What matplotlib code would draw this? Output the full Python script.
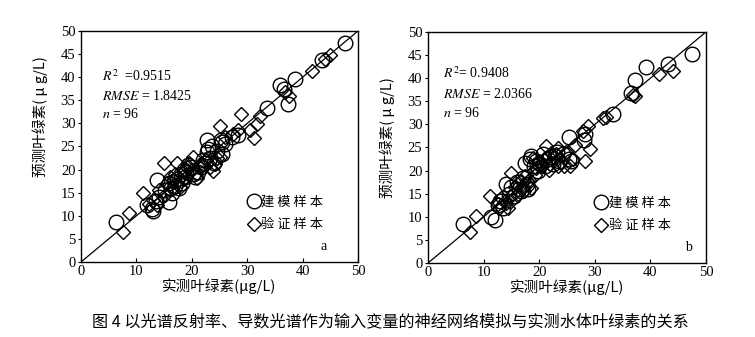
import matplotlib
matplotlib.use('Agg')
import matplotlib.pyplot as plt
import numpy as np

plt.rcParams['font.family'] = ['Liberation Serif', 'DejaVu Serif']
plt.rcParams['mathtext.fontset'] = 'stix'
CJK = ['Noto Sans CJK SC', 'DejaVu Sans']

# ---- panel a: reflectance input ----
a_cal_x = [6.4, 11.9, 12.8, 13.0, 13.5, 14.0, 13.7, 15.8, 15.2, 15.8,
           16.2, 16.5, 16.8, 17.0, 17.3, 17.6, 18.0, 18.2, 18.5, 18.8,
           19.0, 19.3, 19.8, 20.2, 20.6, 21.2, 21.6, 22.0, 22.4, 22.7,
           22.7, 23.0, 23.3, 23.6, 24.0, 24.6, 25.2, 25.4, 25.4, 26.0,
           27.2, 28.4, 33.6, 36.0, 36.6, 37.3, 38.7, 43.5, 47.7]
a_cal_y = [8.7, 12.3, 11.5, 11.0, 13.2, 14.0, 17.7, 13.0, 15.5, 17.0,
           16.0, 15.0, 17.5, 16.5, 18.0, 16.0, 19.0, 17.2, 20.0, 18.5,
           19.5, 21.0, 20.5, 19.0, 18.5, 19.5, 20.5, 22.0, 21.5, 23.8,
           26.3, 24.5, 22.5, 25.0, 21.5, 24.0, 26.5, 26.0, 23.4, 25.5,
           27.0, 27.4, 33.4, 38.2, 37.5, 34.1, 39.7, 43.8, 47.3]
a_val_x = [7.5, 8.7, 11.1, 12.3, 13.0, 14.0, 14.9, 15.5, 16.0, 16.5,
           17.3, 17.0, 18.0, 18.7, 19.1, 20.3, 20.8, 21.5, 22.0, 23.3,
           24.2, 25.1, 25.1, 26.0, 27.5, 28.4, 28.9, 30.5, 31.3, 31.7,
           32.3, 36.9, 37.5, 41.7, 44.1, 45.0,
           18.5, 19.5, 21.0, 22.5, 23.8, 16.8, 15.2, 20.0, 24.5, 13.8, 17.8]
a_val_y = [6.4, 10.5, 14.9, 12.5, 13.5, 15.5, 21.4, 17.0, 18.5, 16.0,
           21.5, 19.0, 17.5, 20.0, 20.6, 22.7, 19.0, 20.5, 21.0, 20.6,
           21.3, 22.7, 29.4, 27.0, 27.8, 28.5, 32.0, 28.5, 26.8, 29.9,
           31.7, 36.8, 35.9, 41.3, 44.0, 44.7,
           18.0, 21.5, 18.2, 22.0, 19.8, 17.8, 14.5, 20.0, 22.5, 12.3, 16.2]

# ---- panel b: derivative spectrum input ----
b_cal_x = [6.3, 11.4, 12.0, 12.5, 13.0, 13.5, 14.1, 14.5, 15.0, 15.5,
           16.0, 16.3, 16.7, 17.0, 17.4, 17.8, 18.0, 18.3, 18.6, 19.0,
           19.4, 19.8, 20.2, 20.6, 21.0, 21.5, 22.0, 22.4, 22.8, 23.2,
           23.6, 24.2, 25.3, 25.3, 25.8, 28.1, 28.3, 33.2, 36.6, 37.2,
           39.2, 43.2, 47.5]
b_cal_y = [8.5, 9.9, 9.2, 12.5, 13.5, 12.0, 17.0, 15.0, 16.5, 14.5,
           17.5, 16.0, 15.5, 18.5, 21.6, 17.0, 16.0, 22.5, 23.1, 21.0,
           22.0, 20.0, 21.5, 23.5, 21.0, 22.5, 23.0, 21.5, 23.2, 24.0,
           22.0, 23.5, 27.2, 22.5, 22.0, 26.7, 28.0, 32.3, 36.8, 39.7,
           42.4, 43.1, 45.2]
b_val_x = [7.5, 8.7, 11.1, 12.5, 13.2, 14.0, 14.4, 15.0, 15.6, 16.2,
           16.8, 17.3, 17.8, 18.6, 19.2, 19.8, 20.5, 21.3, 22.0, 22.6,
           23.4, 23.4, 24.0, 25.5, 26.5, 27.8, 28.2, 28.8, 29.1, 31.5,
           32.1, 36.9, 37.2, 41.5, 44.1,
           13.8, 16.0, 17.0, 18.2, 19.5, 20.8, 21.8, 23.0, 24.8, 12.8,
           15.2, 18.8, 22.2, 24.5, 26.0, 17.5, 20.0, 14.8]
b_val_y = [6.7, 10.2, 14.4, 12.8, 14.0, 13.0, 11.9, 19.5, 16.5, 15.0,
           17.8, 15.5, 17.2, 16.2, 19.0, 22.0, 21.0, 25.3, 21.5, 22.8,
           24.9, 20.9, 21.8, 20.9, 25.5, 28.5, 22.0, 29.6, 24.7, 31.4,
           31.6, 36.4, 36.1, 40.8, 41.5,
           13.5, 17.0, 16.5, 18.0, 20.5, 22.5, 20.2, 23.5, 24.0, 12.0,
           15.0, 22.8, 23.8, 21.0, 22.5, 18.8, 22.0, 13.2]

stats_a = ['$R^2$  =0.9515', '$\\mathit{RMSE}$ = 1.8425', '$n$ = 96']
stats_b = ['$R^2$= 0.9408', '$\\mathit{RMSE}$ = 2.0366', '$n$ = 96']
x_ticks = [0, 10, 20, 30, 40, 50]
y_ticks = [0, 5, 10, 15, 20, 25, 30, 35, 40, 45, 50]
xlabel = '实测叶绿素(μg/L)'
ylabel = '预测叶绿素( μ g/L)'
legend_labels = ['建 模 样 本', '验 证 样 本']
caption = '图 4 以光谱反射率、导数光谱作为输入变量的神经网络模拟与实测水体叶绿素的关系'

fig = plt.figure(figsize=(7.55, 3.37), dpi=100)
ax_a = fig.add_axes([0.1073, 0.2226, 0.3669, 0.6855])
ax_b = fig.add_axes([0.5669, 0.2196, 0.3682, 0.6855])

panels = [
    (ax_a, a_cal_x, a_cal_y, a_val_x, a_val_y, stats_a, 'a', (0.866, 0.05), 0.63, (3.7, 40.2, 35.9, 32.0)),
    (ax_b, b_cal_x, b_cal_y, b_val_x, b_val_y, stats_b, 'b', (0.925, 0.05), 0.545, (2.7, 41.0, 36.6, 32.5)),
]

for ax, cx, cy, vx, vy, stats, tag, tagpos, ylab_y, tpos in panels:
    ax.plot([0, 50], [0, 50], color='black', lw=0.9, zorder=1)
    ax.plot(cx, cy, 'o', ms=10.5, mfc='none', mec='black', mew=1.0,
            label=legend_labels[0], zorder=2)
    ax.plot(vx, vy, 'D', ms=7.5, mfc='none', mec='black', mew=1.0,
            label=legend_labels[1], zorder=2)
    ax.set_xlim(0, 50)
    ax.set_ylim(0, 50)
    ax.set_xticks(x_ticks)
    ax.set_yticks(y_ticks)
    ax.tick_params(axis='x', direction='in', length=3, labelsize=10.5, pad=2)
    ax.tick_params(axis='y', direction='out', length=2.5, labelsize=10.5, pad=1.5)
    for sp in ax.spines.values():
        sp.set_linewidth(1.0)

    ax.set_xlabel(xlabel, family=CJK, fontsize=10.5, labelpad=0)
    ax.set_ylabel(ylabel, family=CJK, fontsize=10.5)
    ax.yaxis.set_label_coords(-0.12, ylab_y)

    x0, y1, y2, y3 = tpos
    for s, yy in zip(stats, [y1, y2, y3]):
        ax.text(x0, yy, s, fontsize=10, va='center', ha='left')

    ax.text(tagpos[0], tagpos[1], tag, transform=ax.transAxes, fontsize=10)

    leg = ax.legend(loc='lower left', bbox_to_anchor=(0.58, 0.11), frameon=False,
                    prop={'family': CJK, 'size': 9.5}, handletextpad=0.1,
                    labelspacing=0.7, handlelength=1.0, borderaxespad=0)

fig.text(0.517, 0.045, caption, family=CJK, fontsize=11.6, ha='center', va='center')

fig.savefig('out.png', dpi=100)
